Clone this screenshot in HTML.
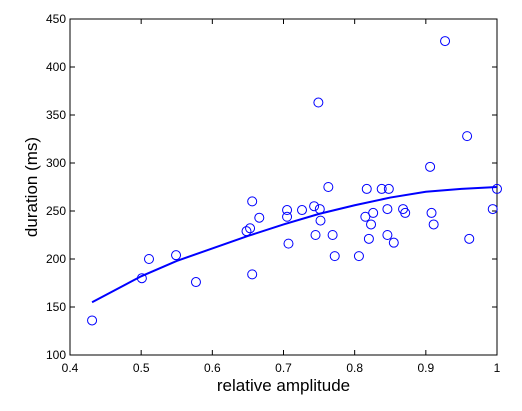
<!DOCTYPE html>
<html><head><meta charset="utf-8"><style>
body{margin:0;background:#fff;font-family:"Liberation Sans",sans-serif}
svg text{font-family:"Liberation Sans",sans-serif}
</style></head><body>
<svg id="c" width="522" height="406"></svg>
<script>
const xs=[0.431,0.501,0.511,0.549,0.577,0.648,0.653,0.656,0.656,0.666,0.705,0.705,0.707,0.726,0.743,0.751,0.752,0.745,0.763,0.749,0.769,0.772,0.806,0.817,0.815,0.826,0.823,0.82,0.838,0.848,0.846,0.846,0.855,0.868,0.871,0.906,0.908,0.911,0.961,0.994,1.0,0.927,0.958];
const ys=[136,180,200,204,176,229,232,260,184,243,251,244,216,251,255,252,240,225,275,363,225,203,203,273,244,248,236,221,273,273,252,225,217,252,248,296,248,236,221,252,273,427,328];
const fitX=[0.431,0.5,0.55,0.6,0.65,0.7,0.75,0.8,0.85,0.9,0.95,1.0];
const fitY=[155,182,198,211,224,236,247,256,264,270,273,275];
const xTicks=[0.4,0.5,0.6,0.7,0.8,0.9,1];
const yTicks=[100,150,200,250,300,350,400,450];
const L=70,R=497,T=19,B=355;
const sx=v=>L+(v-0.4)/0.6*(R-L), sy=v=>B-(v-100)/350*(B-T);
const svg=document.getElementById('c');const NS='http://www.w3.org/2000/svg';
function mk(t,a,p){const e=document.createElementNS(NS,t);for(const k in a)e.setAttribute(k,a[k]);(p||svg).appendChild(e);return e;}
let ax=mk('rect',{x:L,y:T,width:R-L,height:B-T,fill:'none',stroke:'#000','stroke-width':1});


xTicks.forEach(v=>{const x=sx(v);
mk('line',{x1:x,x2:x,y1:B,y2:B-5,stroke:'#000'});mk('line',{x1:x,x2:x,y1:T,y2:T+5,stroke:'#000'});
const t=mk('text',{x:x,y:B+17,'font-size':12,'text-anchor':'middle'});t.textContent=String(v);

});
yTicks.forEach(v=>{const y=sy(v);
mk('line',{x1:L,x2:L+5,y1:y,y2:y,stroke:'#000'});mk('line',{x1:R,x2:R-5,y1:y,y2:y,stroke:'#000'});
const t=mk('text',{x:L-4,y:y+4,'font-size':12,'text-anchor':'end'});t.textContent=String(v);

});
const fit=mk('polyline',{points:fitX.map((v,i)=>sx(v)+','+sy(fitY[i])).join(' '),fill:'none',stroke:'#0000ff','stroke-width':2});


xs.forEach((v,i)=>{const c=mk('circle',{cx:sx(v),cy:sy(ys[i]),r:4.5,fill:'none',stroke:'#0000ff','stroke-width':1});

});
const xl=mk('text',{x:(L+R)/2,y:391,'font-size':17,'text-anchor':'middle'});xl.textContent='relative amplitude';


const yl=mk('text',{x:0,y:0,'font-size':17,'text-anchor':'middle',transform:'translate(37,'+((T+B)/2)+') rotate(-90)'});yl.textContent='duration (ms)';


</script>
</body></html>
